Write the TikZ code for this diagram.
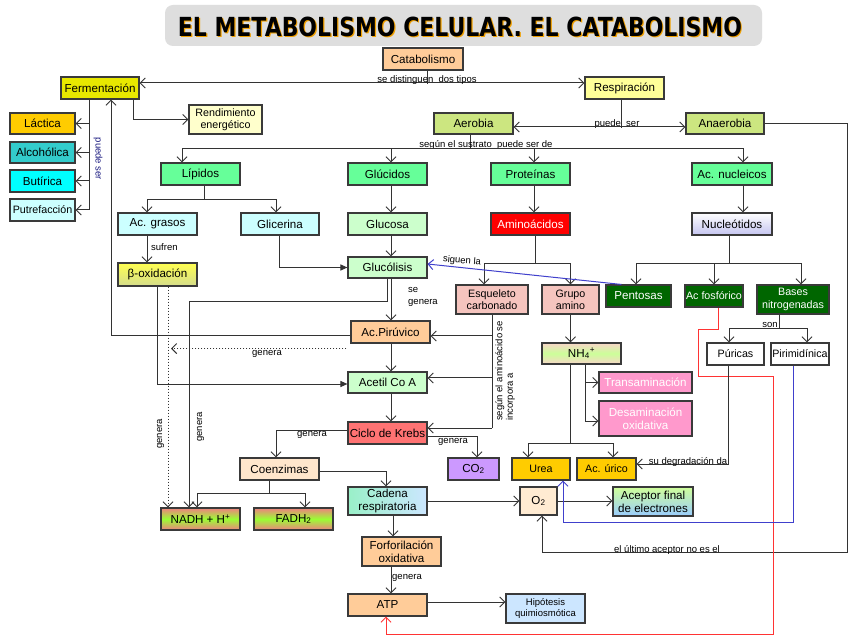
\documentclass[tikz,border=0pt]{standalone}
\usepackage{graphicx}
\usepackage{fontspec}
\setmainfont{Liberation Sans}
\newfontfamily\titlefont{DejaVu Sans}
\usetikzlibrary{arrows.meta,calc}
\newcommand\fmain{\fontsize{11.6}{13}\selectfont}
\newcommand\fsmall{\fontsize{10.7}{12.2}\selectfont}
\newcommand\flab{\fontsize{9.5}{10.5}\selectfont}
\definecolor{bd}{HTML}{3A3A3A}
\definecolor{lc}{HTML}{333333}
\definecolor{cPeach}{HTML}{FFCC99}
\definecolor{cYel}{HTML}{E8E800}
\definecolor{cLYel}{HTML}{FFFF99}
\definecolor{cCream}{HTML}{FFFFCC}
\definecolor{cGold}{HTML}{FFCC00}
\definecolor{cTeal}{HTML}{33CCCC}
\definecolor{cCyan}{HTML}{00FFFF}
\definecolor{cLCyan}{HTML}{CCFFFF}
\definecolor{cOlive}{HTML}{CCE680}
\definecolor{cMint}{HTML}{66FF99}
\definecolor{cLGreen}{HTML}{CCFFCC}
\definecolor{cRed}{HTML}{FF0000}
\definecolor{cSalmon}{HTML}{F5C4BE}
\definecolor{cDGreen}{HTML}{006600}
\definecolor{cPink}{HTML}{FF99CC}
\definecolor{cKrebs}{HTML}{FF7373}
\definecolor{cBisque}{HTML}{FFE6CC}
\definecolor{cLav}{HTML}{CC99FF}
\definecolor{cLBlue}{HTML}{CCE6FF}
\definecolor{cO2}{HTML}{FFEBD2}
\definecolor{cRedLine}{HTML}{FF3333}
\definecolor{cBlueLine}{HTML}{4040CC}
\definecolor{cNavy}{HTML}{1A1A80}
\definecolor{cTitleBg}{HTML}{DEDEDE}
\definecolor{cShadow}{HTML}{F0A000}
\definecolor{cNadEdge}{HTML}{F08080}
\definecolor{cNadMid}{HTML}{99FF33}
\begin{document}
\begin{tikzpicture}[x=1pt,y=-1pt,
  B/.style={draw=bd,line width=1.1pt,inner sep=1pt,align=center,font=\fmain},
  ln/.style={draw=lc,line width=1pt},
  arr/.style={ln,-{Straight Barb[length=5pt,width=10pt]}},
  darr/.style={ln,{Straight Barb[length=5pt,width=10pt]}-{Straight Barb[length=5pt,width=10pt]}},
  tri/.style={ln,-{Triangle[length=7pt,width=6pt]}},
  lab/.style={font=\flab,inner sep=0pt},
  carr/.style={line width=1pt,-{Straight Barb[length=5pt,width=10pt]}},
]
\fill[white] (0,0) rectangle (855,639);
\useasboundingbox (0,0) rectangle (855,639);
% title
\fill[cTitleBg, rounded corners=8pt] (165,5) rectangle (762,46);
\node[text=cShadow,inner sep=0pt] (titles) at (461.2,27.7) {\resizebox{564pt}{19.5pt}{\titlefont\bfseries EL METABOLISMO CELULAR. EL CATABOLISMO}};
\node[inner sep=0pt] (title) at (460,26.5) {\resizebox{564pt}{19.5pt}{\titlefont\bfseries EL METABOLISMO CELULAR. EL CATABOLISMO}};
% nodes
\node[B,fill=cPeach,minimum width=80pt,minimum height=22pt] (cat) at (423,59) {Catabolismo};
\node[B,fill=cYel,minimum width=78pt,minimum height=22pt] (ferm) at (100,88) {Fermentación};
\node[B,fill=cLYel,minimum width=79pt,minimum height=22pt] (resp) at (624.5,88) {Respiración};
\node[B,fill=cCream,minimum width=73pt,minimum height=29pt,font=\fsmall] (rend) at (225.5,119.5) {Rendimiento\\energético};
\node[B,fill=cGold,minimum width=65pt,minimum height=21pt] (lac) at (42.5,123.5) {Láctica};
\node[B,fill=cTeal,minimum width=65pt,minimum height=21pt] (alc) at (42.5,152.5) {Alcohólica};
\node[B,fill=cCyan,minimum width=65pt,minimum height=22pt] (but) at (42.5,181) {Butírica};
\node[B,fill=cLCyan,minimum width=65pt,minimum height=22pt,font=\fsmall] (put) at (42.5,210) {Putrefacción};
\node[B,fill=cOlive,minimum width=79pt,minimum height=21pt] (aer) at (473.5,123.5) {Aerobia};
\node[B,fill=cOlive,minimum width=78pt,minimum height=21pt] (ana) at (725,123.5) {Anaerobia};
\node[B,fill=cMint,minimum width=79pt,minimum height=22pt] (lip) at (200.5,174) {Lípidos};
\node[B,fill=cMint,minimum width=79pt,minimum height=22pt] (glu) at (387.5,174) {Glúcidos};
\node[B,fill=cMint,minimum width=79pt,minimum height=22pt] (pro) at (530.5,174) {Proteínas};
\node[B,fill=cMint,minimum width=80pt,minimum height=22pt] (acn) at (732,174) {Ac. nucleicos};
\node[B,fill=cLCyan,minimum width=79pt,minimum height=22pt] (acg) at (157.5,224) {Ac. grasos};
\node[B,fill=cLCyan,minimum width=78pt,minimum height=22pt] (gli) at (280,224) {Glicerina};
\node[B,fill=cLGreen,minimum width=79pt,minimum height=22pt] (gls) at (387.5,224) {Glucosa};
\node[B,fill=cRed,text=white,minimum width=79pt,minimum height=22pt] (ami) at (530.5,224) {Aminoácidos};
\node[B,top color=white,bottom color={rgb,255:red,196;green,196;blue,240},minimum width=80pt,minimum height=22pt] (nuc) at (732,224) {Nucleótidos};
\node[B,top color={rgb,255:red,255;green,255;blue,80},bottom color={rgb,255:red,212;green,220;blue,140},minimum width=79pt,minimum height=23pt] (box) at (157.5,274.5) {β-oxidación};
\node[B,fill=cLGreen,minimum width=79pt,minimum height=21pt] (glc) at (387.5,267.5) {Glucólisis};
\node[B,fill=cSalmon,minimum width=72pt,minimum height=29pt,font=\fsmall] (esq) at (492,299.5) {Esqueleto\\carbonado};
\node[B,fill=cSalmon,minimum width=57pt,minimum height=29pt,font=\fsmall] (gam) at (570.5,299.5) {Grupo\\amino};
\node[B,fill=cDGreen,text=white,minimum width=65pt,minimum height=22pt] (pen) at (638.5,296) {Pentosas};
\node[B,fill=cDGreen,text=white,minimum width=58pt,minimum height=22pt,font=\fsmall] (acf) at (714,296) {Ac fosfórico};
\node[B,fill=cDGreen,text=white,minimum width=72pt,minimum height=29pt,font=\fsmall] (bas) at (793,299.5) {Bases\\nitrogenadas};
\node[B,fill=cPeach,minimum width=79pt,minimum height=22pt] (pir) at (390.5,332) {Ac.Pirúvico};
\node[B,top color={rgb,255:red,248;green,214;blue,200},bottom color={rgb,255:red,248;green,214;blue,200},middle color={rgb,255:red,204;green,255;blue,153},minimum width=79pt,minimum height=21pt] (nh4) at (581.5,353.5) {NH\textsubscript{4}\textsuperscript{+}};
\node[B,fill=white,minimum width=57pt,minimum height=22pt,font=\fsmall] (pur) at (735.5,354) {Púricas};
\node[B,fill=white,minimum width=58pt,minimum height=22pt,font=\fsmall] (pmd) at (800,354) {Pirimidínica};
\node[B,fill=cLGreen,minimum width=79pt,minimum height=21pt] (ace) at (387.5,382.5) {Acetil Co A};
\node[B,fill=cPink,text=white,minimum width=93pt,minimum height=21pt] (tra) at (645.5,382.5) {Transaminación};
\node[B,fill=cPink,text=white,minimum width=93pt,minimum height=35pt] (des) at (645.5,418.5) {Desaminación\\oxidativa};
\node[B,fill=cKrebs,minimum width=79pt,minimum height=22pt] (kre) at (387.5,433) {Ciclo de Krebs};
\node[B,fill=cBisque,minimum width=79pt,minimum height=22pt] (coe) at (279.5,469) {Coenzimas};
\node[B,fill=cLav,minimum width=51pt,minimum height=22pt] (co2) at (473.5,469) {CO\textsubscript{2}};
\node[B,fill=cGold,minimum width=58pt,minimum height=22pt,font=\fsmall] (ure) at (541,469) {Urea};
\node[B,fill=cGold,minimum width=59pt,minimum height=22pt,font=\fsmall] (uri) at (606.5,469) {Ac. úrico};
\node[B,left color={rgb,255:red,153;green,240;blue,200},right color=cLBlue,minimum width=79pt,minimum height=28pt] (cad) at (387.5,501) {Cadena\\respiratoria};
\node[B,fill=cO2,minimum width=37pt,minimum height=28pt] (o2) at (538.5,501) {O\textsubscript{2}};
\node[B,top color={rgb,255:red,208;green,255;blue,153},bottom color={rgb,255:red,153;green,204;blue,255},minimum width=80pt,minimum height=29pt] (acp) at (653,501.5) {Aceptor final\\de electrones};
\node[B,top color=cNadEdge,bottom color=cNadEdge,middle color=cNadMid,minimum width=79pt,minimum height=22pt] (nad) at (200.5,519) {NADH + H\textsuperscript{+}};
\node[B,top color=cNadEdge,bottom color=cNadEdge,middle color=cNadMid,minimum width=79pt,minimum height=22pt] (fad) at (293.5,519) {FADH\textsubscript{2}};
\node[B,fill=cPeach,minimum width=79pt,minimum height=29pt] (for) at (401.5,551.5) {Forforilación\\oxidativa};
\node[B,fill=cPeach,minimum width=79pt,minimum height=22pt] (atp) at (387.5,605) {ATP};
\node[B,fill=cLBlue,minimum width=79pt,minimum height=29pt,font=\flab] (hip) at (545.5,608.5) {Hipótesis\\quimiosmótica};
% top connectors
\draw[ln] ($(cat.south)+(4,0)$) -- ++(0,13);
\draw[darr] ([yshift=5pt]ferm.east) -- ([yshift=5pt]resp.west);
\node[lab,anchor=base] at (427,83) {se distinguen\ \ dos tipos};
\draw[ln] ($(resp.south)+(-3.5,0)$) -- ++(0,28);
\node[lab,anchor=base] at (617,127) {puede\ \ ser};
\draw[darr] ($(aer.east)+(0,3.5)$) -- ($(ana.west)+(0,3.5)$);
\draw[ln] ($(aer.south)+(-3.5,0)$) -- ++(0,14) coordinate (sus);
\node[lab,anchor=base] at (486,148) {según el sustrato\ \ puede ser de};
\draw[arr] (sus) -| ($(lip.north)+(-18.5,0)$);
\draw[arr] (sus) -| ($(acn.north)+(11,0)$);
\draw[arr] ($(glu.north |- sus)+(3.5,0)$) -- ($(glu.north)+(3.5,0)$);
\draw[arr] ($(pro.north |- sus)+(3.5,0)$) -- ($(pro.north)+(3.5,0)$);
% fermentation
\draw[arr] ($(ferm.south)+(-11,0)$) |- (lac.east);
\draw[arr] ($(ferm.south)+(-11,0)$) |- (alc.east);
\draw[arr] ($(ferm.south)+(-11,0)$) |- (but.east);
\draw[arr] ($(ferm.south)+(-11,0)$) |- (put.east);
\node[lab,text=cNavy,rotate=-90] at (98,159) {puede ser};
\draw[arr] ($(ferm.south)+(33,0)$) |- (rend.west);
% lipids etc.
\draw[ln] ($(lip.south)+(3.5,0)$) -- ++(0,14) coordinate (lipj);
\draw[arr] (lipj) -| ($(acg.north)+(-10.5,0)$);
\draw[arr] (lipj) -| ($(gli.north)+(-4,0)$);
\draw[arr] ($(glu.south)+(3.5,0)$) -- ($(gls.north)+(3.5,0)$);
\draw[arr] ($(pro.south)+(3.5,0)$) -- ($(ami.north)+(3.5,0)$);
\draw[arr] ($(acn.south)+(11,0)$) -- ($(nuc.north)+(11,0)$);
\draw[arr] ($(gls.south)+(3.5,0)$) -- ($(glc.north)+(3.5,0)$);
\draw[arr] ($(acg.south)+(-10.5,0)$) -- ($(box.north)+(-10.5,0)$);
\node[lab,anchor=west] at (151,247) {sufren};
\draw[tri] ($(gli.south)+(-1,0)$) |- (glc.west);
% amino acids
\draw[ln] ($(ami.south)+(4.5,0)$) -- ++(0,28) coordinate (amij);
\draw[arr] (amij) -| ($(esq.north)+(-8,0)$);
\draw[arr] (amij) -| (gam.north);
% nucleotides
\draw[ln] ($(nuc.south)+(-3,0)$) -- ++(0,28) coordinate (nucj);
\draw[arr] (nucj) -| ($(pen.north)+(-2.5,0)$);
\draw[arr] (nucj) -| (acf.north);
\draw[arr] (nucj) -| ($(bas.north)+(8,0)$);
\draw[carr,cBlueLine] ($(pen.north west)+(16,0)$) -- ($(glc.east)+(0,-3.5)$);
\node[lab,rotate=-5] at (462,261) {siguen la};
% glycolysis
\draw[arr] ($(glc.south)+(3.5,0)$) -- ($(glc.south |- pir.north)+(3.5,0)$);
\node[inner sep=0pt,anchor=west,align=left,font=\fontsize{9.5}{12}\selectfont] at (408,297) {se\\genera};
\draw[arr] (glc.south) -- ++(0,23) -| ($(nad.north)+(-11.5,0)$);
\node[lab,rotate=90] at (200.5,427) {genera};
\draw[arr] ($(pir.west)+(0,3.5)$) -| ($(ferm.south)+(11,0)$);
\draw[ln,dotted,-{Straight Barb[length=5pt,width=10pt]}] ($(pir.south west)+(-4,5)$) -- ($(box.south |- pir.south west)+(13.5,5)$);
\node[lab] at (267,354) {genera};
\draw[ln,dotted,-{Straight Barb[length=5pt,width=10pt]}] ($(box.south)+(10.5,0)$) -- ($(nad.north)+(-32.5,0)$);
\node[lab,rotate=90] at (160.5,434) {genera};
\draw[tri] (box.south) |- ($(ace.west)+(0,1.5)$);
\draw[arr] ($(pir.south)+(0.5,0)$) -- ($(ace.north)+(3.5,0)$);
% skeleton
\draw[ln] (esq.south) -- ($(esq.south |- kre.east)+(0,-5)$);
\draw[arr] ($(esq.south |- pir.east)+(0,4)$) -- ($(pir.east)+(0,4)$);
\draw[arr] ($(esq.south |- ace.east)+(0,-4.5)$) -- ($(ace.east)+(0,-4.5)$);
\draw[arr] ($(esq.south |- kre.east)+(0,-5)$) -- ($(kre.east)+(0,-5)$);
\node[lab,rotate=90,anchor=west,align=left] at (505,421) {según el aminoácido se\\incorpora a};
% krebs
\draw[arr] ($(ace.south)+(3.5,0)$) -- ($(kre.north)+(3.5,0)$);
\draw[arr] ($(kre.west)+(0,-3)$) -| ($(coe.north)+(-3.5,0)$);
\node[lab] at (312,434.5) {genera};
\draw[arr] ($(kre.east)+(0,3)$) -| ($(co2.north)+(3.5,0)$);
\node[lab] at (453,441.5) {genera};
% coenzymes
\draw[ln] ($(coe.south)+(-10.5,0)$) -- ++(0,13) coordinate (coej);
\draw[arr] (coej) -| ($(nad.north)+(-3.5,0)$);
\draw[arr] (coej) -| ($(fad.north)+(11.5,0)$);
\draw[arr] ($(coe.east)+(0,2)$) -| ($(cad.north)+(-1.5,0)$);
\draw[arr] (cad.east) -- (o2.west);
\draw[arr] (o2.east) -- (o2.east -| acp.west);
\draw[arr] ($(cad.south)+(5.5,0)$) -- ($(cad.south |- for.north)+(5.5,0)$);
\draw[arr] ($(atp.north |- for.south)+(3.5,0)$) -- ($(atp.north)+(3.5,0)$);
\node[lab] at (407,578) {genera};
\draw[arr] ($(atp.east)+(0,-3)$) -- ($(atp.east -| hip.west)+(0,-3)$);
% anaerobia loop
\draw[arr] ($(ana.east)+(0,0.5)$) -- ++(83,0) -- ++(0,428) -| ($(o2.south)+(3.5,0)$);
\node[lab,anchor=base] at (667,552) {el último aceptor no es el};
% red and blue lines
\draw[carr,cRedLine] ($(acf.south)+(4,0)$) -- ++(0,22) -- ++(-20,0) -- ++(0,47) -- ++(75,0) -- ++(0,258) -| ($(atp.south)+(-1.5,0)$);
\draw[carr,cBlueLine] ($(pmd.south)+(-7,0)$) -- ++(0,157) -| ($(ure.south)+(22,0)$);
% bases
\draw[ln] ($(bas.south)+(-14,0)$) -- ++(0,14) coordinate (basj);
\draw[arr] (basj) -| ($(pur.north)+(-6.5,0)$);
\draw[arr] (basj) -| ($(pmd.north)+(7,0)$);
\node[lab,anchor=base] at (770,328) {son};
\draw[arr] ($(pur.south)+(-7.5,0)$) |- ($(uri.east)+(0,-5)$);
\node[lab,anchor=base] at (688,464) {su degradación da};
% NH4
\draw[arr] (gam.south) -- (gam.south |- nh4.north);
\draw[ln] ($(nh4.south)+(-11.5,0)$) -- ++(0,79) coordinate (nhj);
\draw[arr] (nhj) -| ($(ure.north)+(-13,0)$);
\draw[arr] (nhj) -| ($(uri.north)+(6.5,0)$);
\draw[arr] ($(nh4.south)+(3.5,0)$) |- (tra.west);
\draw[arr] ($(nh4.south)+(3.5,0)$) |- ($(des.west)+(0,2.5)$);
\end{tikzpicture}
\end{document}
